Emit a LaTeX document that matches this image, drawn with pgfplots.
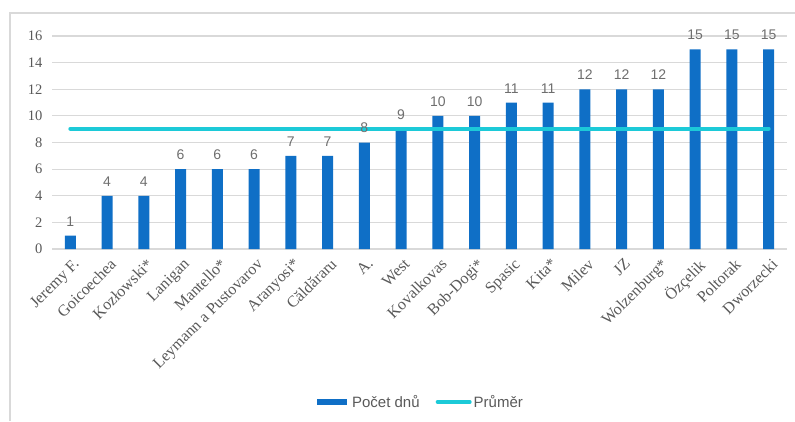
\documentclass[border=0pt]{standalone}
\usepackage{fontspec}
\setmainfont{Liberation Serif}
\newfontfamily\sansf{Liberation Sans}
\usepackage{pgfplots}
\pgfplotsset{compat=1.18}
\definecolor{barblue}{HTML}{0F6FC6}
\definecolor{avgcyan}{HTML}{1CCAD8}
\definecolor{txtgrey}{HTML}{595959}
\definecolor{lblgrey}{HTML}{6E6E6E}
\definecolor{gridgrey}{HTML}{D9D9D9}
\definecolor{bordergrey}{HTML}{D9D9D9}
\begin{document}
\begin{tikzpicture}[x=1pt,y=1pt]
\path[use as bounding box] (0,0) rectangle (795,421);
\draw[bordergrey, line width=1.3pt] (10,0) -- (10,408) -- (795,408);
\begin{axis}[
  at={(52pt,172pt)}, anchor=south west,
  scale only axis, width=735pt, height=213pt,
  xmin=-0.5, xmax=19.5, ymin=0, ymax=16,
  ytick={0,2,...,16},
  xtick={0,...,19},
  xticklabels={Jeremy F.,Goicoechea,Kozłowski*,Lanigan,Mantello*,Leymann a Pustovarov,Aranyosi*,Căldăraru,A.,West,Kovalkovas,Bob-Dogi*,Spasic,Kita*,Milev,JZ,Wolzenburg*,Özçelik,Poltorak,Dworzecki},
  axis line style={draw=none},
  tick style={draw=none},
  major tick length=0pt,
  ymajorgrids, grid style={draw=gridgrey, line width=1.2pt},
  /pgf/number format/assume math mode=true,
  yticklabel style={font=\fontsize{14.5}{16}\selectfont, text=txtgrey, xshift=-6pt},
  xticklabel style={yshift=-4pt, xshift=2pt, rotate=45, anchor=north east, font=\fontsize{16}{18}\selectfont, text=txtgrey, inner sep=3pt},
  legend style={at={(0.5,-0.718)}, anchor=center, draw=none, fill=none,
    legend columns=2, font=\sansf\fontsize{15}{17}\selectfont, text=txtgrey,
    /tikz/every even column/.append style={column sep=14pt}},
  clip=false,
]
\addplot[ybar, bar width=0.3, fill=barblue, draw=none,
  nodes near coords,
  every node near coord/.append style={font=\sansf\fontsize{14}{16}\selectfont, text=lblgrey, yshift=6pt},
  legend image code/.code={\draw[line width=6pt, barblue] (0pt,0pt) -- (30pt,0pt);}]
coordinates {(0,1) (1,4) (2,4) (3,6) (4,6) (5,6) (6,7) (7,7) (8,8) (9,9) (10,10) (11,10) (12,11) (13,11) (14,12) (15,12) (16,12) (17,15) (18,15) (19,15)};
\addlegendentry{Počet dnů}
\addplot[avgcyan, line width=4pt, line cap=round, mark=none,
  legend image code/.code={\draw[line width=4pt, avgcyan, line cap=round] (0pt,0pt) -- (32pt,0pt);}]
coordinates {(0,9.05) (19,9.05)};
\addlegendentry{Průměr}
\end{axis}
\end{tikzpicture}
\end{document}
